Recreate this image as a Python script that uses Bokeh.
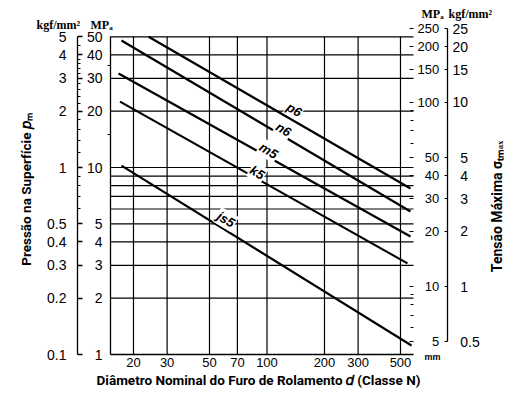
import math
from bokeh.plotting import figure
from bokeh.models import (Range1d, LogAxis, FixedTicker, Label, ColumnDataSource,
                          LogScale, CustomJSTickFormatter)
from bokeh.embed import file_html
from bokeh.resources import INLINE
from bokeh.core.properties import value

# ---------------- data ----------------
classes = ["p6", "n6", "m5", "k5", "js5"]
d_start = [24.0, 17.3, 16.7, 17.0, 17.3]        # mm
p_start = [50.0, 47.8, 31.8, 22.5, 10.24]       # MPa
d_end = [564.0, 564.0, 564.0, 544.0, 571.0]     # mm
p_end = [7.72, 5.82, 4.28, 3.07, 1.117]         # MPa
label_d = [139.0, 122.0, 102.0, 89.0, 61.0]
label_p = [20.4, 16.0, 12.3, 9.4, 5.27]

x_ticks = [20, 30, 50, 70, 100, 200, 300, 500]
mpa_left_ticks = [1, 2, 3, 4, 5, 10, 20, 30, 40, 50]
mpa_left_minor = [15, 35]
grid_mpa = [2, 3, 4, 5, 6, 7, 8, 9, 10, 20, 30, 40, 50]
kgf_left_ticks = [0.1, 0.2, 0.3, 0.4, 0.5, 1, 2, 3, 4, 5]
kgf_left_minor = [0.6, 0.7, 0.8, 0.9, 1.2, 1.4, 1.6, 1.8, 2.2, 2.4, 2.6, 2.8,
                  3.2, 3.4, 3.6, 3.8, 4.5]
mpa_right_ticks = [5, 10, 20, 30, 40, 50, 100, 150, 200, 250]
mpa_right_minor = [6, 7, 8, 9, 60, 70, 80, 90]
kgf_right_ticks = [0.5, 1, 2, 3, 4, 5, 10, 15, 20, 25]

# ---------------- layout (page pixels) ----------------
W, H = 505, 400
PX0, PY0 = 0, 0                 # figure origin on the page
BOX_L, BOX_R = 110, 413         # plot box edges
BOX_B = 354                     # plot box bottom (1 MPa)
XDEC, YDEC, RDEC = 191.0, 187.0, 184.3
R10_Y = 286                     # page y of 10 MPa on the right scale
KGF_L_X, KGF_R_X = 77, 447      # page x of the kgf/mm2 axis lines

x_lo, x_hi = 15.16, 585.0       # box extents in mm
def x_at(px):
    return x_lo * 10 ** ((px - BOX_L) / XDEC)

y_bot_px, y_top_px = PY0 + H, PY0
x_range = Range1d(x_at(PX0), x_at(PX0 + W))
y_range = Range1d(10 ** (-(y_bot_px - BOX_B) / YDEC), 10 ** ((BOX_B - y_top_px) / YDEC))
r_lo = 10 ** (1 - (y_bot_px - R10_Y) / RDEC)
r_hi = 10 ** (1 + (R10_Y - y_top_px) / RDEC)

def sx(px):
    return px - PX0
def sy(py):
    return PY0 + H - py

FONT = "Liberation Sans"
TFONT = "Roboto"
SERIF = "Liberation Serif"
fmt = CustomJSTickFormatter(code="return tick.toString();")
fmt_mr = CustomJSTickFormatter(code="const s = tick.toString(); return '\\u2007'.repeat(Math.max(0, 3 - s.length)) + s;")
fmt_kr = CustomJSTickFormatter(code="return (tick < 10 ? '\\u2007' : '') + tick.toString();")

p = figure(width=W, height=H, x_axis_type="log", y_axis_type="log",
           x_range=x_range, y_range=y_range,
           output_backend="svg", toolbar_location=None,
           min_border_left=0, min_border_right=0, min_border_top=0, min_border_bottom=0)
p.outline_line_color = None
p.background_fill_color = "white"
p.border_fill_color = "white"
p.grid.visible = False

p.extra_y_ranges = {"kgf_l": Range1d(y_range.start / 10, y_range.end / 10),
                    "mpa_r": Range1d(r_lo, r_hi),
                    "kgf_r": Range1d(r_lo / 10, r_hi / 10)}
p.extra_y_scales = {"kgf_l": LogScale(), "mpa_r": LogScale(), "kgf_r": LogScale()}

# grid lines inside the box
ng = len(grid_mpa)
p.segment(x0=[x_lo] * ng, y0=grid_mpa, x1=[x_hi] * ng, y1=grid_mpa,
          line_color="black", line_width=1.2)
n = len(x_ticks)
p.segment(x0=x_ticks, y0=[mpa_left_ticks[0]] * n, x1=x_ticks, y1=[mpa_left_ticks[-1]] * n,
          line_color="black", line_width=1.2)

# x axis
xa = p.xaxis[0]
xa.fixed_location = mpa_left_ticks[0]
xa.bounds = (x_lo, x_hi)
xa.ticker = FixedTicker(ticks=x_ticks)
xa.formatter = fmt
xa.major_tick_in = 0
xa.major_tick_out = 0
xa.minor_tick_in = 0
xa.minor_tick_out = 0
xa.axis_line_color = "black"
xa.axis_line_width = 1.3
xa.major_label_standoff = 3
xa.major_label_text_font = FONT
xa.major_label_text_font_size = "13px"
xa.major_label_text_color = "black"

# left MPa axis (box edge)
ya = p.yaxis[0]
ya.fixed_location = x_lo
ya.ticker = FixedTicker(ticks=mpa_left_ticks, minor_ticks=mpa_left_minor)
ya.formatter = fmt
ya.bounds = (1, 50)
ya.major_tick_in = 0
ya.major_tick_out = 0
ya.minor_tick_in = 0
ya.minor_tick_out = 3
ya.axis_line_color = "black"
ya.axis_line_width = 1.3
ya.major_label_standoff = 5
ya.major_label_text_font = FONT
ya.major_label_text_font_size = "14px"
ya.major_label_text_color = "black"

# left kgf/mm2 axis
kl = LogAxis(y_range_name="kgf_l", fixed_location=x_at(KGF_L_X),
             ticker=FixedTicker(ticks=kgf_left_ticks, minor_ticks=kgf_left_minor),
             formatter=fmt, bounds=(0.1, 5),
             major_tick_in=5, major_tick_out=0, minor_tick_in=3, minor_tick_out=0,
             axis_line_color="black", axis_line_width=1.3,
             major_tick_line_width=1.3, minor_tick_line_width=1.1,
             major_label_standoff=11, major_label_text_font=FONT,
             major_label_text_font_size="14px", major_label_text_color="black")
p.add_layout(kl, "left")

# right MPa axis (box edge)
mr = LogAxis(y_range_name="mpa_r", fixed_location=x_hi,
             ticker=FixedTicker(ticks=mpa_right_ticks, minor_ticks=mpa_right_minor),
             formatter=fmt_mr, bounds=(5, 250),
             major_tick_in=4, major_tick_out=0, minor_tick_in=3, minor_tick_out=0,
             axis_line_color=None, major_tick_line_width=1.2, minor_tick_line_width=1.1,
             major_label_standoff=4, major_label_text_font=FONT,
             major_label_text_font_size="13px", major_label_text_color="black")
p.add_layout(mr, "right")

# right kgf/mm2 axis
kr = LogAxis(y_range_name="kgf_r", fixed_location=x_at(KGF_R_X),
             ticker=FixedTicker(ticks=kgf_right_ticks),
             formatter=fmt_kr, bounds=(0.5, 25),
             major_tick_in=3, major_tick_out=0, minor_tick_in=0, minor_tick_out=0,
             axis_line_color="black", axis_line_width=1.3, major_tick_line_width=1.2,
             major_label_standoff=5, major_label_text_font=FONT,
             major_label_text_font_size="14px", major_label_text_color="black")
p.add_layout(kr, "right")

# fit lines
p.multi_line(xs=[[a, b] for a, b in zip(d_start, d_end)],
             ys=[[a, b] for a, b in zip(p_start, p_end)],
             line_color="black", line_width=2.2)

src = ColumnDataSource(dict(d=label_d, p=label_p, name=classes))
p.text(x="d", y="p", text="name", source=src, angle=-0.53,
       text_align="center", text_baseline="middle",
       text_font=value(FONT), text_font_style="bold italic", text_font_size="13px",
       text_color="black", background_fill_color="white", padding=1)

# titles
tt = dict(x_units="screen", y_units="screen", text_font=TFONT, text_font_style="bold",
          text_color="black", text_align="center", text_baseline="middle")
p.add_layout(Label(x=sx(25), y=sy(189), angle=math.pi / 2, text_font_size="13.5px",
                   text="Pressão na Superfície 𝑝ₘ", **tt))
p.add_layout(Label(x=sx(496), y=sy(206), angle=math.pi / 2, text_font_size="14px",
                   text="Tensão Máxima σₜₘₐₓ", **tt))
p.add_layout(Label(x=sx(258), y=sy(379), text_font_size="13.5px",
                   text="Diâmetro Nominal do Furo de Rolamento 𝑑 (Classe N)", **tt))

# unit headings
hd = dict(x_units="screen", y_units="screen", text_font=SERIF, text_font_style="bold",
          text_font_size="12px", text_color="black", text_baseline="middle",
          text_align="left")
p.add_layout(Label(x=sx(36), y=sy(24), text="kgf/mm²", **hd))
p.add_layout(Label(x=sx(90), y=sy(24), text="MPₐ", **hd))
p.add_layout(Label(x=sx(421), y=sy(13), text="MPₐ", **hd))
p.add_layout(Label(x=sx(448), y=sy(13), text="kgf/mm²", **hd))
p.add_layout(Label(x=sx(424), y=sy(356), text="mm", x_units="screen", y_units="screen",
                   text_font=FONT, text_font_style="bold", text_font_size="9px",
                   text_color="black", text_baseline="middle", text_align="left"))

open("out.html", "w").write(file_html(p, INLINE))
